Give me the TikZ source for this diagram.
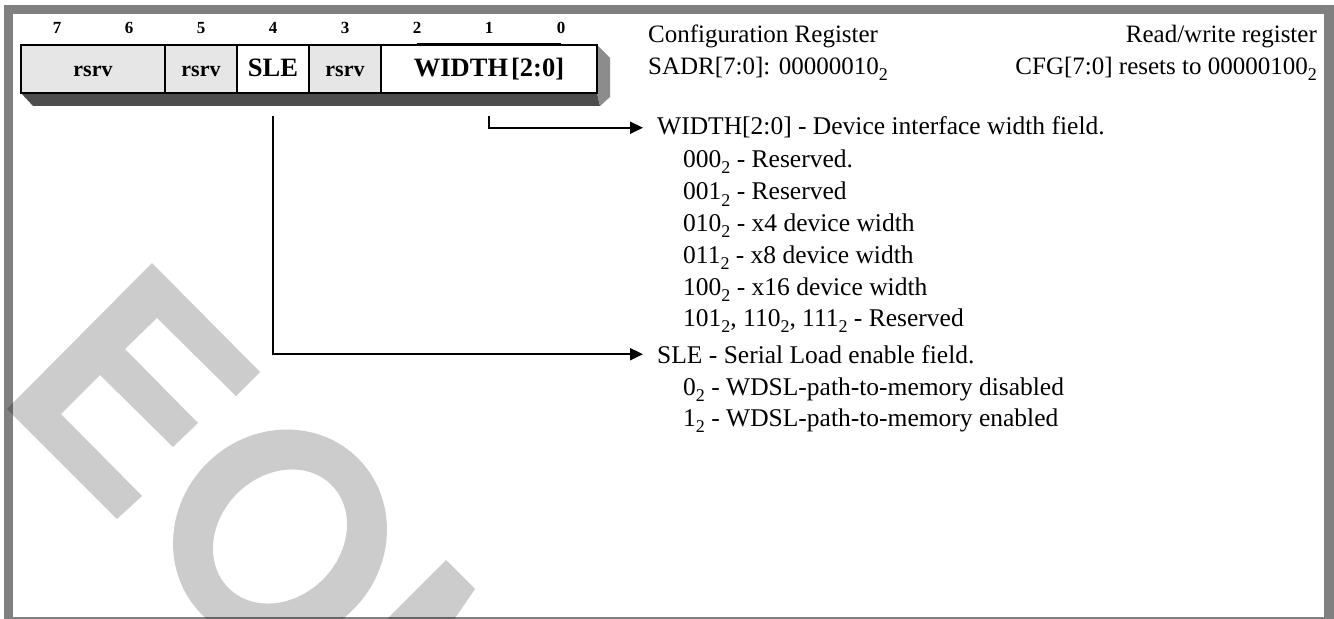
\documentclass[tikz,border=0pt]{standalone}
\usepackage{fontspec}
\setmainfont{Liberation Serif}
\usetikzlibrary{arrows.meta}
\definecolor{framegray}{HTML}{808080}
\definecolor{shadowdark}{HTML}{4D4D4D}
\definecolor{shadowmid}{HTML}{8C8C8C}
\definecolor{rsrvgray}{HTML}{E6E6E6}
\newcommand{\bsub}[1]{\raisebox{-6bp}{\fontsize{18bp}{18bp}\selectfont #1}}
\tikzset{
  cell/.style={draw=black, line width=2bp, minimum height=48bp, inner sep=0pt,
    text height=16bp, text depth=0pt, anchor=center},
  rsrvcell/.style={cell, fill=rsrvgray, font=\fontsize{22bp}{22bp}\selectfont\bfseries},
  fieldcell/.style={cell, fill=white, font=\fontsize{26.5bp}{26.5bp}\selectfont\bfseries},
  bitlbl/.style={font=\fontsize{17bp}{17bp}\selectfont\bfseries, inner sep=0pt, anchor=base},
  desc/.style={font=\fontsize{25.5bp}{30bp}\selectfont, inner sep=0pt, anchor=base west},
  descr/.style={font=\fontsize{25bp}{30bp}\selectfont, inner sep=0pt, anchor=base east},
  hdr/.style={font=\fontsize{25bp}{30bp}\selectfont, inner sep=0pt, anchor=base west},
  conn/.style={draw=black, line width=2bp, -{Triangle[length=13bp,width=12bp]}},
  watermark/.style={fill=black, opacity=0.2}
}
\begin{document}
\begin{tikzpicture}[x=1bp,y=-1bp]
\useasboundingbox (0,0) rectangle (1334,619);
% frame
\fill[framegray] (4,5) rectangle (1334,619);
\fill[white] (13,14) rectangle (1324,617);
% register shadow
\fill[shadowdark] (21,93) -- (597,93) -- (600,106) -- (33,106) -- cycle;
\fill[shadowmid] (597,45) -- (610,58) -- (610,97) -- (600,106) -- (597,93) -- cycle;
% cells
\node[rsrvcell, minimum width=144bp] (c76) at (93,69) {rsrv};
\node[rsrvcell, minimum width=72bp] (c5) at (201,69) {rsrv};
\node[fieldcell, minimum width=72bp] (sle) at (273,69) {SLE};
\node[rsrvcell, minimum width=72bp] (c3) at (345,69) {rsrv};
\node[fieldcell, minimum width=216bp] (wid) at (489,69) {WIDTH\hspace{3bp}[2:0]};
% bit labels
\node[bitlbl] (b7) at (57,34) {7};
\node[bitlbl] (b6) at (129,34) {6};
\node[bitlbl] (b5) at (201,34) {5};
\node[bitlbl] (b4) at (273,34) {4};
\node[bitlbl] (b3) at (345,34) {3};
\node[bitlbl] (b2) at (417,34) {2};
\node[bitlbl] (b1) at (489,34) {1};
\node[bitlbl] (b0) at (561,34) {0};
\draw[line width=1.5bp] (417,43.5) -- (561,43.5);
% header
\node[hdr] (cfgreg) at (648,43) {Configuration Register};
\node[hdr] (sadr) at (648,75) {SADR[7:0]: 00000010\bsub{2}};
\node[descr] (rw) at (1317,43) {Read/write register};
\node[descr] (reset) at (1317,75) {CFG[7:0] resets to 00000100\bsub{2}};
% descriptions
\node[desc] (wdesc) at (657,135) {WIDTH[2:0] - Device interface width field.};
\node[desc] (w0) at (683,168) {000\bsub{2} - Reserved.};
\node[desc] (w1) at (683,200) {001\bsub{2} - Reserved};
\node[desc] (w2) at (683,231) {010\bsub{2} - x4 device width};
\node[desc] (w3) at (683,263) {011\bsub{2} - x8 device width};
\node[desc] (w4) at (683,295) {100\bsub{2} - x16 device width};
\node[desc] (w5) at (683,326) {101\bsub{2}, 110\bsub{2}, 111\bsub{2} - Reserved};
\node[desc] (sdesc) at (657,363) {SLE - Serial Load enable field.};
\node[desc] (s0) at (683,395) {0\bsub{2} - WDSL-path-to-memory disabled};
\node[desc] (s1) at (683,426) {1\bsub{2} - WDSL-path-to-memory enabled};
% connectors
\coordinate (wstart) at (489,116);
\coordinate (sstart) at (273,116);
\draw[conn] (wstart) |- ([xshift=-14bp]wdesc.west);
\draw[conn] (sstart) |- ([xshift=-14bp]sdesc.west);
% watermark
\begin{scope}
\clip (0,0) rectangle (1334,619);
\fill[watermark] (152,263) -- (260,372) -- (236,396) -- (157,318) -- (125,349)
  -- (198,423) -- (173,447) -- (100,375) -- (61,414) -- (142,496) -- (117,519)
  -- (7,409) -- cycle;
\begin{scope}[shift={(280,536.5)}, rotate=45]
\fill[watermark, even odd rule] (0,0) ellipse [x radius=110.4, y radius=103.4]
  (0,0) ellipse [x radius=72.8, y radius=60.7];
\end{scope}
\fill[watermark] (446,560) -- (475,589) -- (447,630) -- (376,630) -- cycle;
\end{scope}
\end{tikzpicture}
\end{document}
